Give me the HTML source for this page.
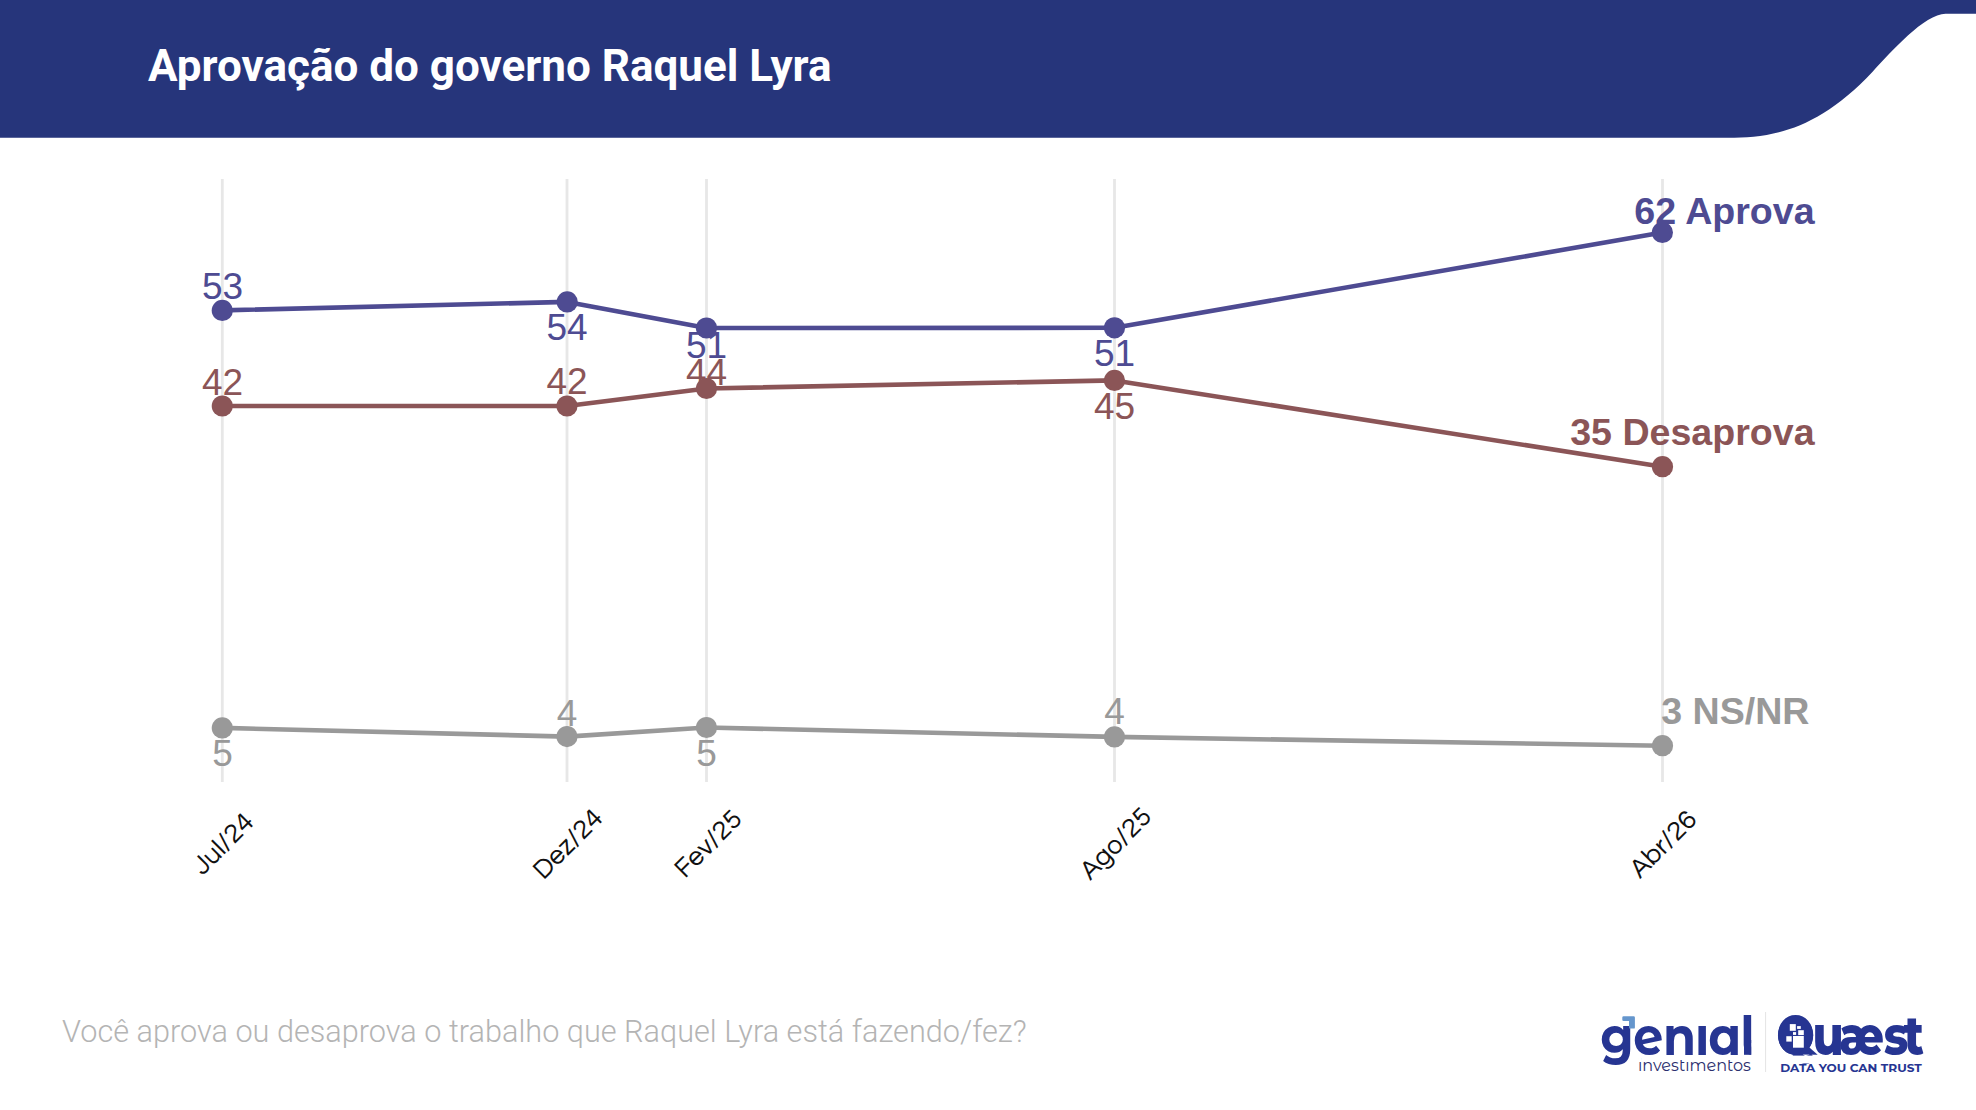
<!DOCTYPE html>
<html lang="pt-BR">
<head>
<meta charset="utf-8">
<title>Aprovação do governo Raquel Lyra</title>
<style>
  html, body { margin: 0; padding: 0; background: #ffffff; }
  body { width: 1976px; height: 1110px; overflow: hidden; position: relative; }
  svg { position: absolute; left: 0; top: 0; display: block; }
  .num { font-family: "Liberation Sans", Arial, sans-serif; font-size: 37px; text-anchor: middle; }
  .end { font-family: "Liberation Sans", Arial, sans-serif; font-size: 37.6px; font-weight: bold; }
  .ax { font-family: "Questrial", "Liberation Sans", sans-serif; font-weight: 400; font-size: 27px; fill: #111; }
</style>
</head>
<body>
<svg width="1976" height="1110" viewBox="0 0 1976 1110">
  <!-- header banner -->
  <path d="M0,0 H1976 V13.7 H1945.6 C1924.7,13.7 1891.1,51.8 1872.6,71.7 C1817.4,130.6 1771.7,137.7 1728,137.7 H0 Z" fill="#26357b"/>
  <text x="148" y="81" textLength="683.5" font-family="Roboto, 'Liberation Sans', sans-serif" font-weight="700" font-size="44" fill="#ffffff">Aprovação do governo Raquel Lyra</text>

  <!-- grid lines -->
  <g stroke="#e7e7e7" stroke-width="2.8">
    <line x1="222.3" y1="179" x2="222.3" y2="782"/>
    <line x1="567" y1="179" x2="567" y2="782"/>
    <line x1="706.5" y1="179" x2="706.5" y2="782"/>
    <line x1="1114.5" y1="179" x2="1114.5" y2="782"/>
    <line x1="1662.5" y1="179" x2="1662.5" y2="782"/>
  </g>

  <!-- series lines -->
  <g fill="none" stroke-width="4.6" stroke-linejoin="round" stroke-linecap="round">
    <polyline stroke="#4e4b92" points="222.3,310.4 567.2,301.9 706.5,328 1114.5,327.8 1662.4,232.5"/>
    <polyline stroke="#8b5557" points="222.3,406 567,406 706.5,388.5 1114.5,380.4 1662.5,466.7"/>
    <polyline stroke="#999999" points="222.3,727.9 567,736.6 706.5,727.5 1114.5,736.9 1662.5,745.7"/>
  </g>
  <!-- points -->
  <g fill="#4e4b92">
    <circle cx="222.3" cy="310.4" r="10.6"/><circle cx="567.2" cy="301.9" r="10.6"/><circle cx="706.5" cy="328" r="10.6"/><circle cx="1114.5" cy="327.8" r="10.6"/><circle cx="1662.4" cy="232.5" r="10.6"/>
  </g>
  <g fill="#8b5557">
    <circle cx="222.3" cy="406" r="10.6"/><circle cx="567" cy="406" r="10.6"/><circle cx="706.5" cy="388.5" r="10.6"/><circle cx="1114.5" cy="380.4" r="10.6"/><circle cx="1662.5" cy="466.7" r="10.6"/>
  </g>
  <g fill="#999999">
    <circle cx="222.3" cy="727.9" r="10.6"/><circle cx="567" cy="736.6" r="10.6"/><circle cx="706.5" cy="727.5" r="10.6"/><circle cx="1114.5" cy="736.9" r="10.6"/><circle cx="1662.5" cy="745.7" r="10.6"/>
  </g>

  <!-- value labels -->
  <g class="num" fill="#4e4b92">
    <text x="222.5" y="299">53</text>
    <text x="567" y="340">54</text>
    <text x="706.5" y="357.6">51</text>
    <text x="1114.5" y="366.2">51</text>
  </g>
  <g class="num" fill="#8b5557">
    <text x="222.5" y="394.5">42</text>
    <text x="567" y="394.1">42</text>
    <text x="706.5" y="384.7">44</text>
    <text x="1114.5" y="418.6">45</text>
  </g>
  <g class="num" fill="#999999">
    <text x="222.5" y="766">5</text>
    <text x="567" y="725.5">4</text>
    <text x="706.5" y="766">5</text>
    <text x="1114.5" y="723.5">4</text>
  </g>
  <text class="end" x="1814.6" y="223.8" text-anchor="end" fill="#4e4b92">62 Aprova</text>
  <text class="end" x="1814.6" y="445.2" text-anchor="end" fill="#8b5557">35 Desaprova</text>
  <text class="end" x="1809.5" y="724.4" text-anchor="end" fill="#999999">3 NS/NR</text>

  <!-- x axis labels -->
  <text class="ax" textLength="74.47" text-anchor="end" transform="translate(255.2,823.6) rotate(-45)">Jul/24</text>
  <text class="ax" textLength="86.11" text-anchor="end" transform="translate(604.3,819.5) rotate(-45)">Dez/24</text>
  <text class="ax" textLength="82.8" text-anchor="end" transform="translate(743.5,820.5) rotate(-45)">Fev/25</text>
  <text class="ax" textLength="88.89" text-anchor="end" transform="translate(1153,818.1) rotate(-45)">Ago/25</text>
  <text class="ax" textLength="82.33" text-anchor="end" transform="translate(1698.2,821) rotate(-45)">Abr/26</text>

  <!-- footer question -->
  <text x="0" y="1042" textLength="990.5" transform="translate(62,0) scale(0.974,1)" font-family="Roboto, 'Liberation Sans', sans-serif" font-weight="300" font-size="31.5" fill="#b4b4b4">Você aprova ou desaprova o trabalho que Raquel Lyra está fazendo/fez?</text>

  <!-- logos -->
  <g>
    <text x="1739.4 1775.3 1807.5 1842.4 1856.9 1891.7" y="1054.8" transform="scale(0.92,1)" font-family="'Montserrat Alternates', 'Liberation Sans', sans-serif" font-weight="700" font-size="52" fill="#263592">genial</text>
    <rect x="1751.2" y="1043" width="9" height="14" fill="#ffffff"/>
    <rect x="1744" y="1040" width="7.2" height="14.8" fill="#263592"/>
    <rect x="1696.5" y="1011" width="11" height="12.6" fill="#ffffff"/>
    <path d="M1623.6,1016.2 H1633.6 Q1634.9,1016.2 1634.9,1017.5 V1027.4 Q1634.9,1028.6 1633.7,1028.6 H1630.2 Q1629,1028.6 1629,1027.4 V1021 H1623.6 Q1622.3,1021 1622.3,1019.7 V1017.5 Q1622.3,1016.2 1623.6,1016.2 Z" fill="#6596cd"/>
    <text x="1637.9" y="1070.7" textLength="113" lengthAdjust="spacingAndGlyphs" font-family="'Montserrat Alternates', 'Liberation Sans', sans-serif" font-weight="400" font-size="16" fill="#2b2f6e">investimentos</text>
    <rect x="1638.4" y="1057.4" width="3.2" height="3" fill="#ffffff"/>
    <rect x="1685.4" y="1057.4" width="3.8" height="3" fill="#ffffff"/>
    <line x1="1765.6" y1="1012" x2="1765.6" y2="1072" stroke="#e4e4e4" stroke-width="1"/>
    <text x="2166.4 2210.3 2242.7 2297.4 2321.6" y="1054.9" transform="scale(0.82,1)" font-family="Montserrat, 'Liberation Sans', sans-serif" font-weight="800" font-size="55" fill="#263592">Quæst</text>
    <rect x="1786" y="1055.6" width="33" height="7.6" fill="#ffffff"/>
    <ellipse cx="1795.6" cy="1035.5" rx="17.6" ry="19.3" fill="#263592"/>
    <path d="M1806,1044.5 L1817.7,1054.8 L1799,1054.6 Z" fill="#263592"/>
    <g fill="#ffffff">
      <rect x="1789.8" y="1024.1" width="6" height="6.7"/>
      <rect x="1797.1" y="1026.1" width="3.7" height="2.8"/>
      <rect x="1793" y="1032.1" width="3.1" height="2.8"/>
      <rect x="1798.2" y="1030.2" width="5.6" height="4.9"/>
      <rect x="1786.3" y="1036.2" width="5.4" height="5.4"/>
      <rect x="1793" y="1036" width="10.8" height="11.7"/>
    </g>
    <text x="1780.2" y="1071.7" textLength="141.6" lengthAdjust="spacingAndGlyphs" font-family="Montserrat, 'Liberation Sans', sans-serif" font-weight="700" font-size="11" fill="#263592">DATA YOU CAN TRUST</text>
  </g>
</svg>
</body>
</html>
